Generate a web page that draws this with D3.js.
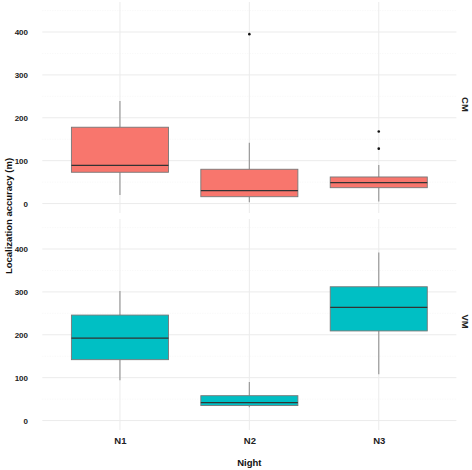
<!DOCTYPE html>
<html><head><meta charset="utf-8">
<script src="https://cdn.jsdelivr.net/npm/d3@7"></script>
<style>body{margin:0;background:#fff}svg{display:block;font-family:"Liberation Sans",Arial,sans-serif}</style>
</head><body><svg id="c" width="472" height="470"></svg>
<script>
const nights = ["N1","N2","N3"];
const methods = ["CM","VM"];
const colors = ["#F8766D","#00BFC4"];
// [whiskerLow, q1, median, q3, whiskerHigh] per night
const cmStats = [[20,73,89,178,239],[3,16,30,80,142],[5,37,49,62,90]];
const vmStats = [[94,142,192,246,302],[31,35,42,58,90],[108,209,264,312,392]];
const cmOutliers = [[],[395],[168,128]];
const vmOutliers = [[],[],[]];
const yTicks = [0,100,200,300,400];
const yMinor = [50,150,250,350,450];

const svg = d3.select("#c");
const x = d3.scalePoint().domain(nights).range([42.3,456.4]).padding(0.6);
const step = x.step();
const bw = step*0.75;
const panels = [
  {name:methods[0], color:colors[0], stats:cmStats, out:cmOutliers, top:2, bottom:213},
  {name:methods[1], color:colors[1], stats:vmStats, out:vmOutliers, top:219, bottom:430}
];
panels.forEach(p=>{
  const y = d3.scaleLinear().domain([-22,470]).range([p.bottom,p.top]);
  const g = svg.append("g");
  g.selectAll(".mn").data(yMinor).join("line")
    .attr("x1",42.3).attr("x2",456.4).attr("y1",d=>y(d)).attr("y2",d=>y(d))
    .attr("stroke","#f2f2f2").attr("stroke-width",0.6).attr("stroke-dasharray","1,1.5");
  g.selectAll(".mj").data(yTicks).join("line")
    .attr("x1",42.3).attr("x2",456.4).attr("y1",d=>y(d)).attr("y2",d=>y(d))
    .attr("stroke","#ebebeb").attr("stroke-width",1);
  g.selectAll(".vx").data(nights).join("line")
    .attr("x1",d=>x(d)).attr("x2",d=>x(d)).attr("y1",p.top).attr("y2",p.bottom)
    .attr("stroke","#ebebeb").attr("stroke-width",1);
  const ax = d3.axisLeft(y).tickValues(yTicks).tickSize(0).tickPadding(0);
  const ag = g.append("g").attr("transform","translate(28,0)").call(ax);
  ag.select(".domain").remove();
  ag.selectAll("text").attr("font-size",8).attr("font-weight","bold").attr("fill","#222");
  p.stats.forEach((s,i)=>{
    const cx = x(nights[i]);
    g.append("line").attr("x1",cx).attr("x2",cx).attr("y1",y(s[4])).attr("y2",y(s[3]))
      .attr("stroke","#999").attr("stroke-width",1.2);
    g.append("line").attr("x1",cx).attr("x2",cx).attr("y1",y(s[1])).attr("y2",y(s[0]))
      .attr("stroke","#999").attr("stroke-width",1.2);
    g.append("rect").attr("x",cx-bw/2).attr("width",bw).attr("y",y(s[3])).attr("height",y(s[1])-y(s[3]))
      .attr("fill",p.color).attr("stroke","#777").attr("stroke-width",0.9);
    g.append("line").attr("x1",cx-bw/2).attr("x2",cx+bw/2).attr("y1",y(s[2])).attr("y2",y(s[2]))
      .attr("stroke","#333").attr("stroke-width",1.3);
    p.out[i].forEach(o=>{
      g.append("circle").attr("cx",cx).attr("cy",y(o)).attr("r",1.3).attr("fill","#111");
    });
  });
  const my = (p.top+p.bottom)/2 - 3;
  svg.append("text").attr("transform",`translate(462,${my}) rotate(90)`)
    .attr("text-anchor","middle").attr("font-size",9.5).attr("font-weight","bold").attr("fill","#222").text(p.name);
});
const xa = d3.axisBottom(x).tickSize(0).tickPadding(0);
const xg = svg.append("g").attr("transform","translate(0,437)").call(xa);
xg.select(".domain").remove();
xg.selectAll("text").attr("font-size",9.5).attr("font-weight","bold").attr("fill","#222");
svg.append("text").attr("x",x("N2")).attr("y",466).attr("text-anchor","middle")
  .attr("font-size",9.5).attr("font-weight","bold").attr("fill","#111").text("Night");
svg.append("text").attr("transform","translate(12,216) rotate(-90)").attr("text-anchor","middle")
  .attr("font-size",9.5).attr("font-weight","bold").attr("fill","#111").text("Localization accuracy (m)");
</script></body></html>
